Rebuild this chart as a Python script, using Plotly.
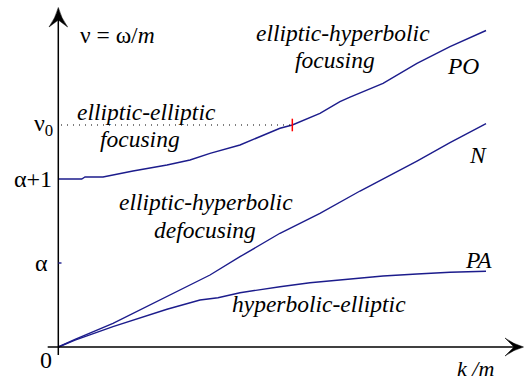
import plotly.graph_objects as go

# ---- data (x = k/m, y = nu = omega/m, in units where alpha = 1) ----
alpha = 1.0
alpha_p1 = 2.0
nu0 = 2.643
k0 = 2.786

po_x = [0.0, 0.279, 0.318, 0.532, 0.889, 1.294, 1.568, 1.806, 2.163, 2.401, 2.639, 2.786, 3.115, 3.353, 3.473, 3.866, 4.270, 4.663, 5.092]
po_y = [2.0, 2.0, 2.024, 2.024, 2.095, 2.167, 2.226, 2.306, 2.405, 2.504, 2.604, 2.643, 2.782, 2.920, 2.976, 3.139, 3.377, 3.575, 3.768]

n_x = [0.0, 0.199, 0.651, 1.294, 1.806, 2.163, 2.639, 3.115, 3.592, 4.270, 4.663, 5.092]
n_y = [0.0, 0.092, 0.282, 0.599, 0.857, 1.075, 1.354, 1.592, 1.857, 2.214, 2.432, 2.658]

pa_x = [0.0, 0.199, 0.651, 1.294, 1.687, 1.901, 2.163, 2.425, 2.639, 2.996, 3.592, 3.866, 4.270, 4.663, 5.092]
pa_y = [0.0, 0.083, 0.242, 0.449, 0.560, 0.587, 0.646, 0.687, 0.718, 0.765, 0.818, 0.845, 0.869, 0.889, 0.901]

tick_vals = [0.0, alpha, alpha_p1, nu0]
tick_text = ["0", "α", "α+1", "ν<sub>0</sub>"]

# ---- geometry helpers (pixels -> data units) ----
W, H = 524, 382
S = 84.0
OX, OY = 58.3, 347.0


def dx(px):
    return (px - OX) / S


def dy(py):
    return (OY - py) / S


LINE = "#1c1c8c"
FONT = "Liberation Serif"
FS = 23.5

fig = go.Figure()
for xs, ys in [(po_x, po_y), (n_x, n_y), (pa_x, pa_y)]:
    fig.add_trace(go.Scatter(x=xs, y=ys, mode="lines",
                             line=dict(color=LINE, width=1.4),
                             hoverinfo="skip"))

shapes = []
# axes
shapes.append(dict(type="line", x0=0, x1=0, y0=dy(355), y1=dy(20),
                   line=dict(color="black", width=1.5)))
shapes.append(dict(type="line", x0=dx(47.7), x1=dx(515), y0=0, y1=0,
                   line=dict(color="black", width=1.5)))


def path(pts):
    s = ""
    for cmd, p in pts:
        s += cmd + " " + " ".join(f"{dx(a):.4f},{dy(b):.4f}" for a, b in p) + " "
    return s + "Z"


# y arrowhead
shapes.append(dict(type="path", fillcolor="black", line=dict(color="black", width=0.5),
                   path=path([("M", [(58.3, 7.5)]), ("Q", [(55.5, 18), (49, 27)]),
                              ("L", [(58.3, 20)]), ("L", [(67.6, 27)]),
                              ("Q", [(61.1, 18), (58.3, 7.5)])])))
# x arrowhead
shapes.append(dict(type="path", fillcolor="black", line=dict(color="black", width=0.5),
                   path=path([("M", [(523.5, 347)]), ("Q", [(513, 344), (505, 338)]),
                              ("L", [(514, 347)]), ("L", [(505, 356)]),
                              ("Q", [(513, 350), (523.5, 347)])])))
# dotted nu0 line and red tick
shapes.append(dict(type="line", x0=dx(61), x1=k0, y0=nu0, y1=nu0,
                   line=dict(color="black", width=1.1, dash="1px,5px")))
shapes.append(dict(type="line", x0=k0, x1=k0, y0=nu0 - 0.075, y1=nu0 + 0.075,
                   line=dict(color="red", width=1.5)))
# alpha tick
shapes.append(dict(type="line", x0=0, x1=dx(61.5), y0=alpha, y1=alpha,
                   line=dict(color=LINE, width=1.4)))

ann = []


def label(text, cx, baseline, size=FS, italic=True):
    t = f"<i>{text}</i>" if italic else text
    ann.append(dict(text=t, x=dx(cx), y=dy(baseline - 0.3 * size),
                    xanchor="center", yanchor="middle", showarrow=False,
                    font=dict(family=FONT, size=size)))


label("ν = ω/<i>m</i>", 117, 41.7, italic=False)
label("elliptic-hyperbolic", 342.5, 40.5)
label("focusing", 335, 67)
label("elliptic-elliptic", 146.7, 119)
label("focusing", 140, 146)
label("PO", 463, 72.7)
label("N", 478, 162)
label("elliptic-hyperbolic", 205.5, 209)
label("defocusing", 205, 237)
label("PA", 478.5, 267)
label("hyperbolic-elliptic", 319.4, 311)
label("k /m", 475, 375, size=22)

# tick labels (placed at their data values)
tick_cx = [46, 41.5, 33, 43.5]
for v, t, cx in zip(tick_vals, tick_text, tick_cx):
    yv = dy(367 - 0.3 * 24) if v == 0.0 else v
    ann.append(dict(text=t, x=dx(cx), y=yv, xanchor="center", yanchor="middle",
                    showarrow=False, font=dict(family=FONT, size=24)))

fig.update_layout(
    width=W, height=H,
    margin=dict(l=0, r=0, t=0, b=0),
    paper_bgcolor="white", plot_bgcolor="white",
    showlegend=False,
    font=dict(family=FONT, color="black"),
    xaxis=dict(visible=False, range=[dx(0), dx(W)], fixedrange=True),
    yaxis=dict(visible=False, range=[dy(H), dy(0)], fixedrange=True),
    shapes=shapes,
    annotations=ann,
)

fig.write_html("out.html", config={"displayModeBar": False},
               post_script="document.body.style.margin='0';document.body.style.padding='0';")
